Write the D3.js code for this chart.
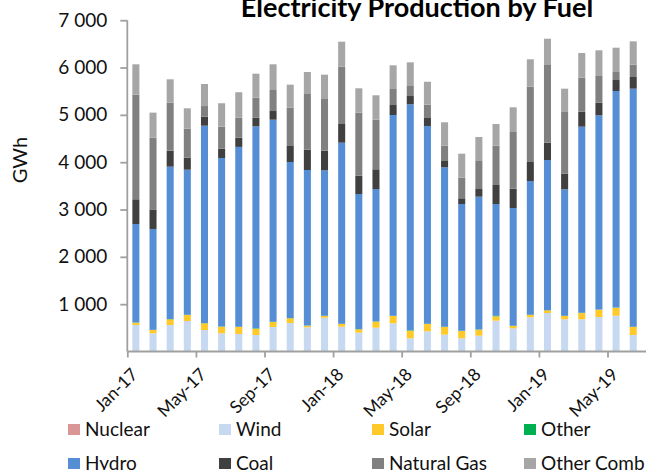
<!DOCTYPE html>
<html>
<head>
<meta charset="utf-8">
<script src="https://cdn.jsdelivr.net/npm/d3@7"></script>
<style>
  html, body { margin: 0; padding: 0; background: #fff; }
  svg { display: block; font-family: Lato, "Open Sans", sans-serif; }
</style>
</head>
<body>
<svg id="chart" width="648" height="470"></svg>
<script>
const months = ["Jan-17","Feb-17","Mar-17","Apr-17","May-17","Jun-17","Jul-17","Aug-17","Sep-17","Oct-17","Nov-17","Dec-17",
  "Jan-18","Feb-18","Mar-18","Apr-18","May-18","Jun-18","Jul-18","Aug-18","Sep-18","Oct-18","Nov-18","Dec-18",
  "Jan-19","Feb-19","Mar-19","Apr-19","May-19","Jun-19"];
const seriesNames = ["Nuclear","Wind","Solar","Other","Hydro","Coal","Natural Gas","Other Comb"];
const nuclear = new Array(30).fill(0);
const wind  = [560,384,560,644,454,384,370,349,518,602,511,714,524,398,503,596,279,427,356,279,334,651,490,723,813,680,680,729,756,349];
const solar = [49,70,120,127,142,140,148,133,105,99,34,36,57,71,127,154,161,154,162,154,127,93,49,48,57,70,133,154,169,169];
const other = [5,5,5,5,5,5,5,10,5,5,5,5,5,5,5,5,10,5,5,5,5,10,5,5,5,5,5,5,5,5];
const hydro = [2080,2130,3220,3065,4170,3560,3800,4266,4270,3298,3285,3073,3826,2854,2798,4242,4773,4179,3369,2678,2805,2362,2488,2826,3171,2672,3932,4102,4574,5030];
const coal  = [522,402,338,254,190,197,196,181,183,338,429,415,395,386,417,211,175,169,133,121,162,402,408,402,366,330,316,267,232,247];
const gas   = [2210,1527,1014,612,225,464,422,424,444,809,1177,1092,1210,1332,1048,338,212,281,324,435,607,831,1198,1591,1656,1318,719,564,169,261];
const otherComb = [642,529,494,431,466,495,537,507,543,487,464,514,529,515,515,501,500,485,494,507,492,458,521,579,541,478,522,543,514,492];
const yTicks = [1000,2000,3000,4000,5000,6000,7000];
const colors = ["#da9694","#c6d9f1","#ffc929","#00b050","#558ed5","#404040","#808080","#a6a6a6"];

const seriesData = [nuclear, wind, solar, other, hydro, coal, gas, otherComb];
const rows = months.map((m, i) => {
  const r = { month: m };
  seriesNames.forEach((s, k) => r[s] = seriesData[k][i]);
  return r;
});

const svg = d3.select("#chart");
const pLeft = 127.3, pRight = 641.8, pTop = 20.2, pBottom = 351.5;

const x = d3.scaleBand().domain(months).range([pLeft, pRight]).paddingInner(0.59).paddingOuter(0.295);
const xi = d3.scaleLinear().domain([0, 30]).range([pLeft, pRight]);
const y = d3.scaleLinear().domain([0, 7000]).range([pBottom, pTop]);

const layers = d3.stack().keys(seriesNames)(rows);

svg.append("g").selectAll("g").data(layers).join("g")
  .attr("fill", (d, k) => colors[k])
  .selectAll("rect").data(d => d).join("rect")
  .attr("x", d => x(d.data.month))
  .attr("width", x.bandwidth())
  .attr("y", d => y(d[1]))
  .attr("height", d => Math.max(0, y(d[0]) - y(d[1])));

const fmt = d3.formatLocale({ decimal: ".", thousands: " ", grouping: [3], currency: ["", ""] }).format(",d");

// Y axis
const yAxis = svg.append("g").attr("transform", `translate(${pLeft},0)`)
  .call(d3.axisLeft(y).tickValues(yTicks).tickFormat(fmt).tickSize(7).tickSizeOuter(0));
yAxis.select(".domain").attr("stroke", "#a0a0a0").attr("stroke-width", 1.8).attr("d", `M0,${pTop}V${pBottom}`);
yAxis.selectAll(".tick line").attr("stroke", "#a0a0a0").attr("stroke-width", 1.8);
yAxis.selectAll(".tick text").attr("x", -20).attr("font-size", 19).attr("fill", "#111").attr("font-family", "Lato");

// X axis
const xAxis = svg.append("g").attr("transform", `translate(0,${pBottom})`)
  .call(d3.axisBottom(xi).tickValues(d3.range(0, 30, 4)).tickFormat("").tickSize(6).tickSizeOuter(0));
xAxis.select(".domain").attr("stroke", "#a0a0a0").attr("stroke-width", 1.8).attr("d", `M${pLeft},0H646`);
xAxis.selectAll(".tick line").attr("stroke", "#a0a0a0").attr("stroke-width", 1.8);

svg.append("g").selectAll("text").data(months.filter((m, i) => i % 4 === 0)).join("text")
  .attr("transform", d => `translate(${x(d) + x.bandwidth() / 2 + 3},${pBottom + 24}) rotate(-45)`)
  .attr("text-anchor", "end")
  .attr("font-size", 17.5)
  .attr("fill", "#111")
  .text(d => d);

// Y title
svg.append("text")
  .attr("transform", "translate(27,160) rotate(-90)")
  .attr("text-anchor", "middle")
  .attr("font-size", 20)
  .attr("fill", "#111")
  .text("GWh");

// Title
svg.append("text")
  .attr("x", 417).attr("y", 17)
  .attr("text-anchor", "middle")
  .attr("font-size", 27)
  .attr("font-weight", "bold")
  .attr("fill", "#000")
  .text("Electricity Production by Fuel");

// Legend
const legX = [68, 219, 372, 524];
const legY = [424, 458];
const leg = svg.append("g").selectAll("g").data(seriesNames).join("g")
  .attr("transform", (d, k) => `translate(${legX[k % 4]},${legY[Math.floor(k / 4)]})`);
leg.append("rect").attr("width", 12).attr("height", 11).attr("fill", (d, k) => colors[k]);
leg.append("text").attr("x", 17).attr("y", 11.5).attr("font-size", 19).attr("fill", "#111").text(d => d);
</script>
</body>
</html>
